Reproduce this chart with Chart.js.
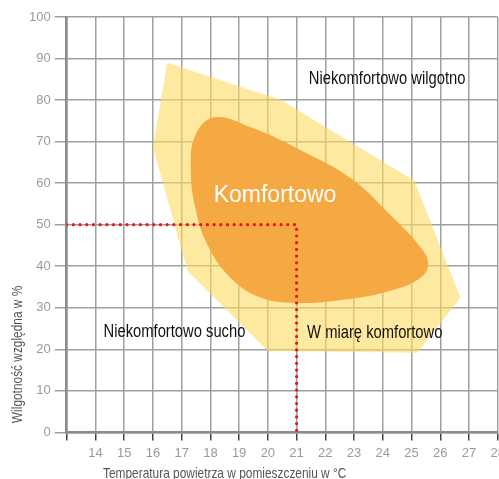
<!DOCTYPE html>
<html>
<head>
<meta charset="utf-8">
<script src="https://cdn.jsdelivr.net/npm/chart.js@4/dist/chart.umd.min.js"></script>
<style>
  html, body { margin: 0; padding: 0; background: #fff; overflow: hidden; }
  #wrap { position: absolute; left: 0; top: 0; width: 510px; height: 496px; }
</style>
</head>
<body>
<div id="wrap"><canvas id="comfort-chart"></canvas></div>
<script>
// temperature (°C) / humidity (%) outlines
const tolerableTemp = [16.5, 20.45, 25.1, 26.7, 25.2, 20.0, 17.2, 16.0, 16.5];
const tolerableHum  = [89.0, 80.0, 60.6, 32.4, 19.2, 19.6, 38.9, 68.7, 89.0];

// closed smooth outline: first and last points overlap so the curve joins without a kink
const comfortTemp = [17.46, 18.13, 19.41, 21.16, 22.9, 24.29, 25.27, 25.58, 25.27, 24.12, 22.55, 20.98, 19.69, 18.64, 17.88, 17.46, 17.32, 17.46, 18.13, 19.41];
const comfortHum  = [71.26, 75.85, 73.43, 67.87, 61.11, 52.17, 44.93, 40.58, 36.96, 33.82, 31.88, 31.16, 32.61, 37.68, 45.41, 54.59, 63.04, 71.26, 75.85, 73.43];

const refTemp = [13, 21, 21];
const refHum  = [50, 50, 0];

const xMin = 13, xMax = 28, yMin = 0, yMax = 100;

const zoneNames = ['Niekomfortowo wilgotno', 'Niekomfortowo sucho', 'W miarę komfortowo', 'Komfortowo'];
const zoneTemp = [24.15, 16.75, 23.72, 20.25];
const zoneHum  = [85.0, 24.15, 24.0, 57.0];

const xTitle = 'Temperatura powietrza w pomieszczeniu w °C';
const yTitle = 'Wilgotność względna w %';

const FONT = "'Liberation Sans', Arial, sans-serif";
const toPoints = (xs, ys) => xs.map((x, i) => ({x: x, y: ys[i]}));

// no narrow font installed, so squeeze Liberation Sans horizontally
function narrowText(ctx, text, x, y, size, color, vertical) {
  ctx.save();
  ctx.translate(x, y);
  if (vertical) ctx.rotate(-Math.PI / 2);
  ctx.scale(0.82, 1);
  ctx.font = size + 'px ' + FONT;
  ctx.fillStyle = color;
  ctx.textAlign = 'center';
  ctx.textBaseline = 'middle';
  ctx.fillText(text, 0, 0);
  ctx.restore();
}

const zoneLabels = {
  id: 'zoneLabels',
  afterDatasetsDraw(chart) {
    const {ctx, scales, chartArea} = chart;
    zoneNames.forEach((name, i) => {
      const px = scales.x.getPixelForValue(zoneTemp[i]);
      const py = scales.y.getPixelForValue(zoneHum[i]);
      if (i === 3) {
        ctx.save();
        ctx.font = '23px ' + FONT;
        ctx.fillStyle = '#fff';
        ctx.textAlign = 'center';
        ctx.textBaseline = 'middle';
        ctx.fillText(name, px, py);
        ctx.restore();
      } else {
        narrowText(ctx, name, px, py, 18, '#111', false);
      }
    });
    narrowText(ctx, xTitle, chartArea.left + 158, chartArea.bottom + 42, 14.5, '#555', false);
    narrowText(ctx, yTitle, 18, chartArea.bottom - 78, 14.5, '#555', true);
  }
};

const ctx = document.getElementById('comfort-chart').getContext('2d');
new Chart(ctx, {
  type: 'scatter',
  data: {
    datasets: [
      {
        data: toPoints(refTemp, refHum),
        showLine: true,
        borderColor: '#e8141c',
        borderWidth: 3.2,
        borderDash: [0, 6.7],
        borderCapStyle: 'round',
        pointRadius: 0,
        order: 0
      },
      {
        data: toPoints(comfortTemp, comfortHum),
        showLine: true,
        tension: 0.4,
        fill: 'shape',
        backgroundColor: '#f5a942',
        borderWidth: 0,
        borderColor: 'transparent',
        pointRadius: 0,
        order: 1
      },
      {
        data: toPoints(tolerableTemp, tolerableHum),
        showLine: true,
        tension: 0,
        fill: 'shape',
        backgroundColor: 'rgba(254, 218, 96, 0.6)',
        borderWidth: 0,
        borderColor: 'transparent',
        pointRadius: 0,
        order: 2
      }
    ]
  },
  options: {
    responsive: true,
    maintainAspectRatio: false,
    animation: false,
    layout: { padding: { left: 25, top: 17, right: 0, bottom: 30 } },
    plugins: { legend: { display: false }, tooltip: { enabled: false } },
    scales: {
      x: {
        type: 'linear', min: xMin, max: xMax,
        ticks: {
          stepSize: 1, autoSkip: false, maxRotation: 0, padding: 5,
          color: '#9a9a9a', font: { family: FONT, size: 13 },
          callback: v => v === xMin ? '' : v
        },
        grid: { color: '#a0a0a0', lineWidth: 1.5, tickLength: 8, tickColor: '#444', tickWidth: 1.5 },
        border: { color: '#8c8c8c', width: 2.5 }
      },
      y: {
        min: yMin, max: yMax,
        ticks: { stepSize: 10, padding: 4, color: '#9a9a9a', font: { family: FONT, size: 13 } },
        grid: { color: '#a0a0a0', lineWidth: 1.5, tickLength: 12 },
        border: { color: '#8c8c8c', width: 2.5 }
      }
    }
  },
  plugins: [zoneLabels]
});
</script>
</body>
</html>
